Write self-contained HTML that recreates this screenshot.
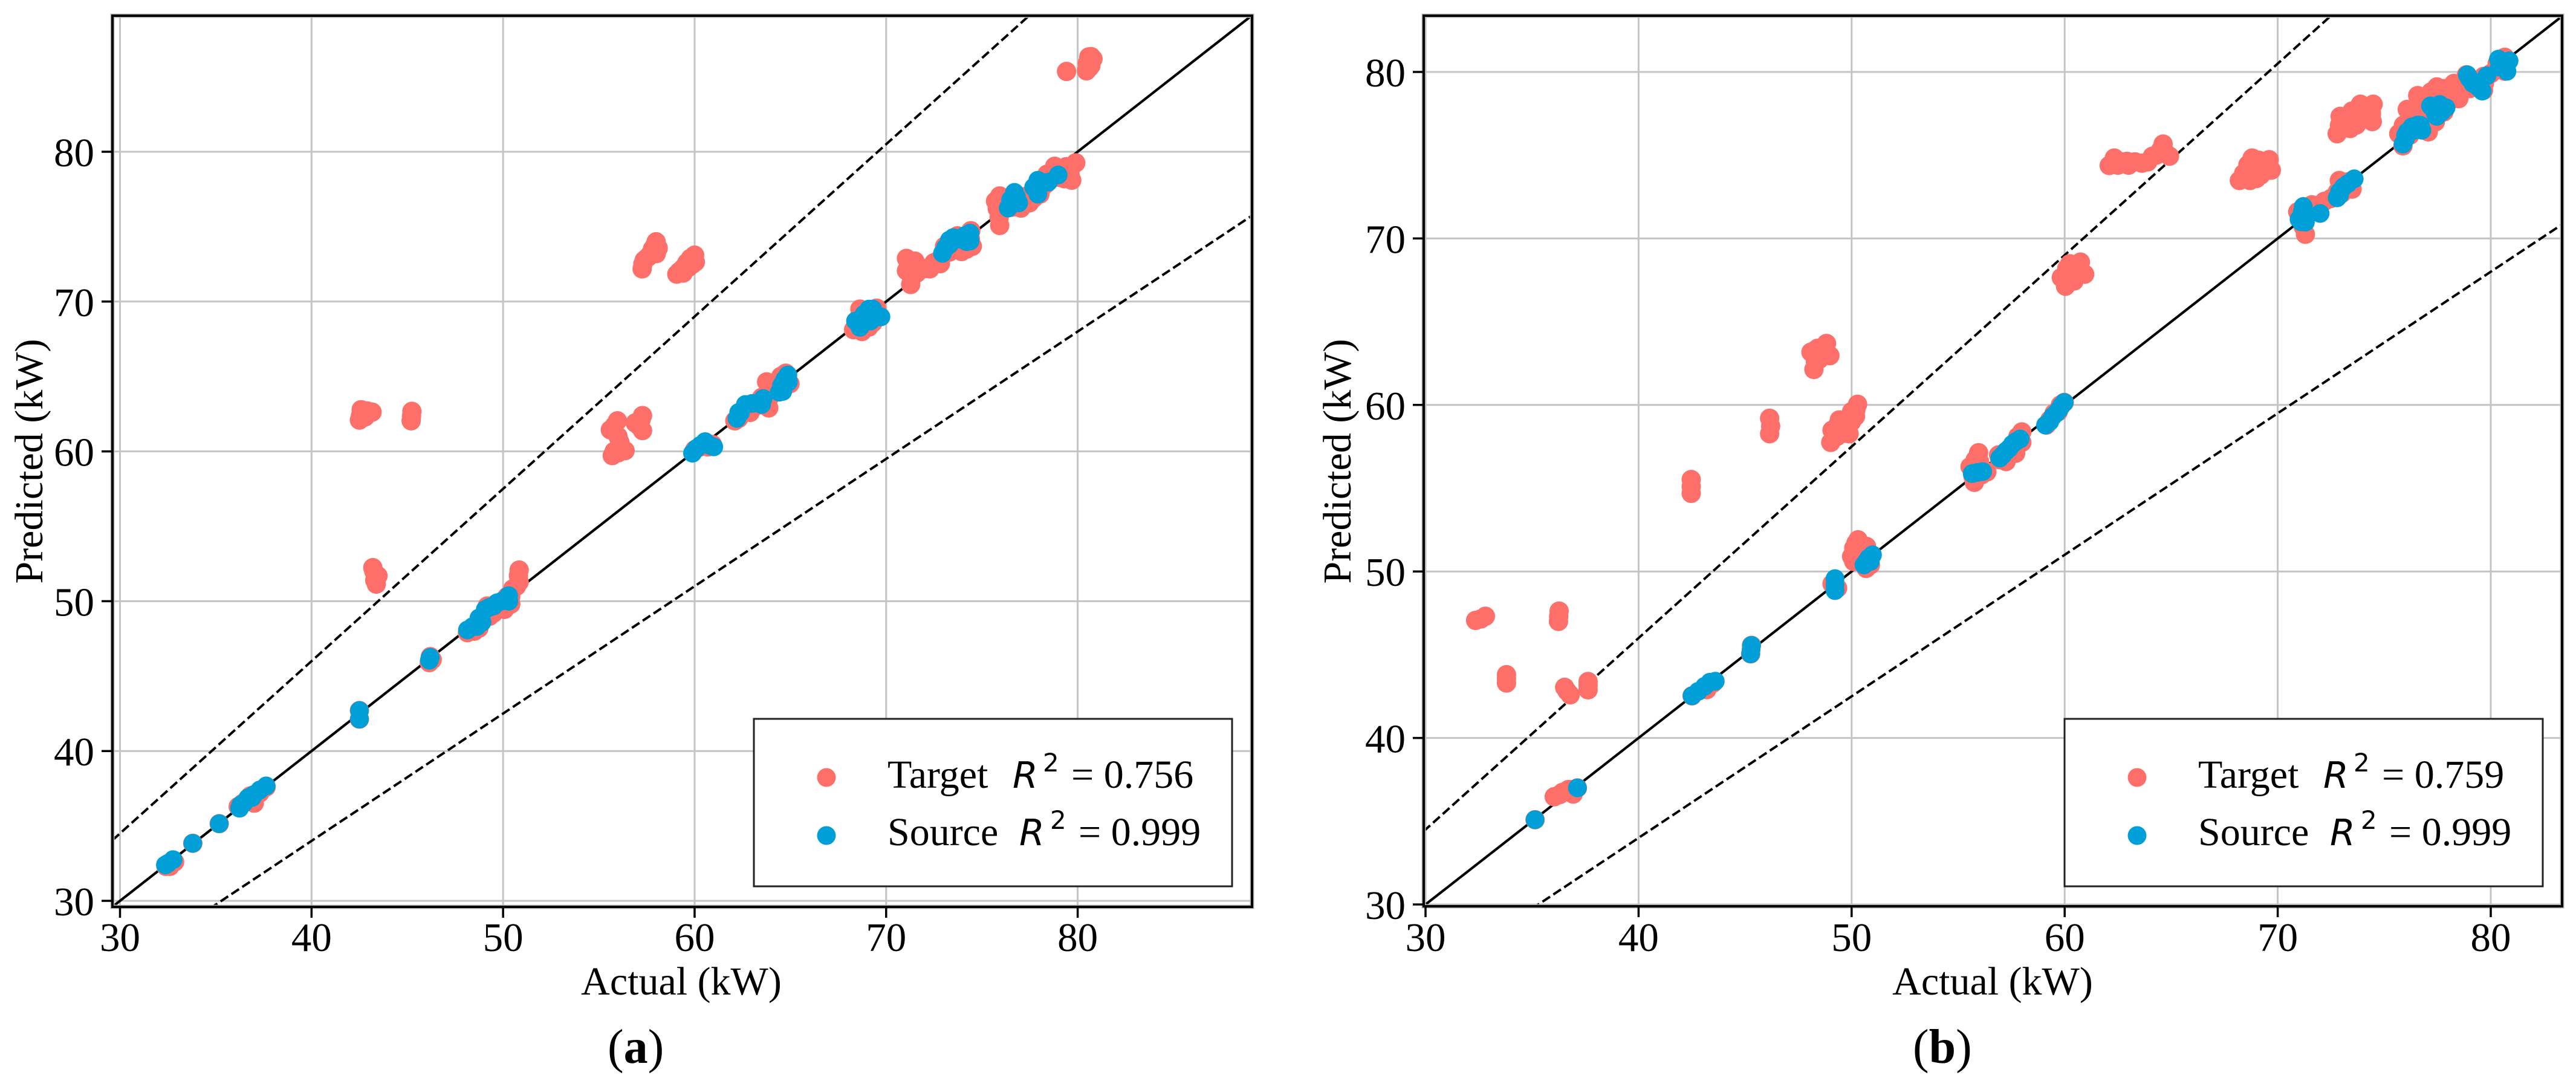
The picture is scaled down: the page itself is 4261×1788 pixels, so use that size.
<!DOCTYPE html>
<html lang="en">
<head>
<meta charset="utf-8">
<title>Actual vs predicted power scatter charts</title>
<style>
html,body{margin:0;padding:0;background:#fff;width:4261px;height:1788px;overflow:hidden}
svg{display:block}
text{font-family:"Liberation Serif",serif;fill:#000}
.tick{font-size:67px}
.axis{font-size:66px}
.leg{font-size:66px}
.r{font-family:"DejaVu Sans",sans-serif;font-style:oblique;font-size:60px}
.sup{font-family:"DejaVu Sans",sans-serif;font-size:42px}
.cap{font-size:80px}
</style>
</head>
<body>
<svg id="figure" xmlns="http://www.w3.org/2000/svg" width="4261" height="1788" viewBox="0 0 4261 1788">
<rect width="4261" height="1788" fill="#fff"/>
<g id="panel-a"></g>
<g id="panel-b"></g>

<g>
<rect x="1247" y="1189" width="791" height="277" fill="#fff" stroke="#222" stroke-width="3"/>
<circle cx="1367" cy="1286" r="15.5" fill="#ff6f69"/>
<text class="leg" x="1468" y="1303">Target</text>
<text class="r" x="1675" y="1303">R</text>
<text class="sup" x="1725" y="1276">2</text>
<text class="leg" x="1772" y="1303">= 0.756</text>
<circle cx="1367" cy="1382" r="15.5" fill="#019fd8"/>
<text class="leg" x="1468" y="1398">Source</text>
<text class="r" x="1686" y="1398">R</text>
<text class="sup" x="1737" y="1371">2</text>
<text class="leg" x="1784" y="1398">= 0.999</text>
</g>

<g>
<rect x="3415" y="1189" width="791" height="277" fill="#fff" stroke="#222" stroke-width="3"/>
<circle cx="3535" cy="1286" r="15.5" fill="#ff6f69"/>
<text class="leg" x="3636" y="1303">Target</text>
<text class="r" x="3843" y="1303">R</text>
<text class="sup" x="3893" y="1276">2</text>
<text class="leg" x="3940" y="1303">= 0.759</text>
<circle cx="3535" cy="1382" r="15.5" fill="#019fd8"/>
<text class="leg" x="3636" y="1398">Source</text>
<text class="r" x="3854" y="1398">R</text>
<text class="sup" x="3905" y="1371">2</text>
<text class="leg" x="3952" y="1398">= 0.999</text>
</g>

<text class="cap" x="1005" y="1758">(<tspan font-weight="bold">a</tspan>)</text>
<text class="cap" x="3164" y="1758">(<tspan font-weight="bold">b</tspan>)</text>
</svg>

<script>
const xTicksA = [30, 40, 50, 60, 70, 80];
const yTicksA = [30, 40, 50, 60, 70, 80];
const xTicksB = [30, 40, 50, 60, 70, 80];
const yTicksB = [30, 40, 50, 60, 70, 80];
const upperBandSlope = 1.15;
const lowerBandSlope = 0.85;

const targetActualA = [
42.5,42.59,43.16,42.65,45.24,45.2,
55.97,55.6,55.7,56.37,57.28,57.15,57.28,56.9,
57.26,57.37,57.7,57.99,57.92,58.1,
59.07,59.45,59.78,60,60.04,
43.2,43.38,43.47,
79.42,80.58,80.8,80.46,80.69,
60,60.55,60.93,
62.1,62.6,63.1,63.87,63.76,64.76,64.98,64.2,63.5,
68.3,68.74,69.3,68.63,69.5,69,
71.06,71.06,71.28,71.73,72.28,72.83,73.05,73.94,74.5,74.42,73.72,71.4,
75.93,75.71,75.93,76.15,77.04,77.48,78.03,78.8,79.69,79.69,79.36,78.36,79.9,76.5,77.2,78.4,79.2,76,
50.84,50.84,50.5,50.18,
48.14,48.74,49.18,49.5,50.07,
46.15,46.2,
42.5,42.5,
36.17,37.01,37.63,36.8,
35.18,33.8,32.4,32.85,
42.8,42.9,42.55,45.22,
55.8,55.8,56,56.1,56,56.1,57.1,57.2,
57.3,57.5,57.6,57.8,57.9,58,
59.2,59.3,59.6,59.9,59.4,59.7,59.9,
43.3,43.3,43.25,
80.7,80.6,80.5,80.7,
60.3,60.7,
62.3,62.9,63.4,63.7,63.9,64.2,64.5,64.6,63.9,
68.5,68.9,69.1,68.9,69.2,69.4,68.6,
71.2,71.5,71.6,71.3,72,72.5,72.9,73.3,73.6,73.3,74,74.4,74.2,
75.8,75.9,76.2,76.6,77.3,77.7,78.2,78.6,78.8,79,79.4,79.6,79.3,
50.8,50.7,50.4,
48.5,49,49.3,49.8,48.8,49.6,50.2,50.4,
46.3,36.4,36.6,37.3,32.6
];
const targetPredictedA = [
62.09,62.78,62.62,62.44,62.67,62.04,
62.04,61.44,59.72,60.05,62.39,62,61.39,61.9,
72.18,72.76,73.2,73.99,73.34,73.57,
71.83,72.3,72.88,73.1,72.64,
52.24,51.14,51.69,
85.36,86.33,86.2,85.4,85.75,
60.1,60.58,60.46,
62.04,62.6,63,62.9,64.64,65.22,64.52,64.17,63.6,
68.12,68,68.58,69.5,69.56,69,
72.88,72.06,71.14,72.3,72.18,72.53,73.69,73.34,73.69,74.73,74.39,72.6,
75.08,76.7,77.05,76.24,76.24,76.59,77.17,79.03,79.03,78.1,78.56,77.87,79.26,77,77,78.5,78.9,76,
52.08,51.28,50.82,50.14,
47.9,48.2,49.68,49.2,49.45,
45.9,46.3,
42.7,42.13,
36.29,36.52,37.6,37,
35.15,33.84,32.3,32.6,
62.3,62.7,62.35,62.35,
61.7,60,59.9,60.4,61,60.6,61.7,62.1,
72.5,72.9,73,73.5,73.7,73.2,
72,72.1,72.6,72.5,71.9,72.3,72.9,
51.9,51.4,52,
86,85.6,85.9,86.35,
60.3,60.3,
62.2,62.6,63.1,63.2,63.6,64.6,65,64.3,64.2,
68.6,68.5,68.3,69.3,69.3,69,69,
72.4,72.7,71.9,71.7,72.2,72.6,73,73.3,73.6,73.8,74,74.2,73.5,
76.2,75.6,76.8,76.3,76.6,76.9,77.7,78.4,78.3,78.3,79,78.5,78.2,
51.7,51,50.3,
48,48.9,49,49.7,48.6,49.8,50.3,49.8,
46.1,36.5,36.7,37.2,32.3
];
const sourceActualA = [
59.89,60.1,60.55,61,
62.21,62.65,62.4,63.58,63.5,64.42,64.54,64.87,64.9,
68.4,68.63,69.3,69.18,69.73,68.85,
72.94,73.5,73.94,74.38,74.38,73.3,
76.37,76.7,76.92,77.92,77.92,77.7,78.47,78.98,
48.14,48.63,48.74,49.07,49.51,49.96,50.29,
46.15,46.2,
42.5,42.5,
37.63,37,36.68,36.24,36.46,
35.18,33.8,32.37,32.77,
60.3,60.8,62.3,63,64.6,64.7,68.6,69,69.4,69.1,
73.1,73.7,74.1,74.2,73.3,76.5,76.8,77.8,78.2,
48.4,48.9,49.3,49.7,50.1,50.3,36.9,36.3,37.3,32.5
];
const sourcePredictedA = [
59.88,60.2,60.65,60.3,
62.2,63.13,62.6,63.53,63.13,63.95,64.41,65.1,64.64,
68.7,68.28,69.5,68.7,68.98,69.16,
73.22,74.27,74.15,74.57,74.04,73.8,
76.24,77.29,76.59,78.1,77.17,77.63,77.98,78.45,
48.08,48.31,48.88,49.45,49.68,50.02,50.37,
46.06,46.25,
42.7,42.13,
37.67,37.1,36.87,36.18,36.52,
35.15,33.84,32.4,32.75,
60.4,60.4,62.6,63.2,64,64.8,68.6,69,69.2,69.5,
73.6,74.2,74.4,74,74.1,76.8,77,77.5,77.9,
48.3,48.6,49.6,49.9,50.1,50,36.9,36.4,37.4,32.5
];

const targetActualB = [
48.23,48.09,48.82,48.98,48.49,48.4,
46.15,46.15,46.2,
49.02,49.08,49.42,49.88,50.28,50.18,49.78,49.3,
42.47,42.47,
50,50.1,50.3,50.4,50.7,50.88,50.68,
49.08,49.34,
45.3,45.26,
42.51,43.2,43.5,
37.13,36.93,36.43,36.04,36.7,
35.14,
32.35,32.81,36.27,36.24,
33.8,33.8,
36.53,36.79,37.63,37.63,
62.09,62.33,62.93,63.63,64.12,64.62,64.92,64.5,
68.2,68.6,68.8,69.6,69.7,68.7,69.2,
72.79,72.93,73.49,73.88,74.48,74.44,73.69,74,
71.3,70.94,71.6,72.19,72.89,73.49,73.3,
75.88,75.68,77.07,76.08,76.57,77.47,77.47,78.27,78.07,78.86,79.66,79.66,80.66,80.66,76.8,78.6,76.1,
60.04,59.84,60.24,60.74,60.94,60.44,
59.14,59.98,59.5,
57.99,57.99,56.95,57.25,57.7,
55.96,55.76,55.56,56.35,
48.3,48.5,48.7,48.3,48.6,48.8,
49.2,49.4,49.6,49.7,50,50,50.2,49.3,
42.47,
50.2,50.5,50.1,50.2,
36.25,32.6,33.8,36.65,37.63,
36.3,36.6,36.8,
62.5,62.7,63,63.3,63.9,64.3,64.5,64.7,
68.4,68.5,68.9,69.3,69.4,69.1,69,
72.9,73.2,73.3,73.6,73.9,74.2,74.4,73.4,
71.2,71.3,72,72.5,72.8,73.2,73,71.2,
75.9,75.9,76.3,76.5,76.2,76.8,76.9,77.2,77,77.8,77.7,78.2,78.6,78.5,79,79.3,79.7,80,80.3,80.8,80.2,76.6,77.4,77.8,
60.1,60.4,60.6,60.1,60.7,60.3,
59.3,59.7,59.8,
56.9,57.4,57.7,57.8,57.2,
55.8,55.9,56,55.7,56.1
];
const targetPredictedB = [
62.13,63.17,63.69,62.96,62.75,63.4,
59.2,58.27,58.73,
57.75,58.48,59.1,58.27,60.04,59.31,58.8,58.1,
55.52,54.69,
50.9,51.4,51.9,51.2,51.5,50.39,50.18,
49.26,49,
45.56,45.05,
42.53,42.9,43.3,
37,36.63,36.73,36.47,36.9,
35.09,
47.06,47.31,47.62,47,
43.8,43.3,
43.04,42.59,43.39,42.89,
74.38,74.83,74.63,74.52,74.94,75.67,74.94,75.2,
73.48,74.42,74.83,74.73,74.1,73.48,73.8,
76.29,77.33,77.65,78.06,78.06,77.02,76.81,77.5,
70.25,71.6,72.02,72.23,73.48,72.96,73.4,
75.56,76.29,76.4,77.75,78.58,77.44,79.1,79.31,78.27,79.83,78.9,79.73,80.88,80.04,77.3,78.8,77,
67.13,67.65,68.48,68.58,67.85,67.44,
58.79,60.15,59.5,
58.38,57.75,56.71,56.6,57.1,
57.13,55.35,56.29,55.98,
62.6,63.1,63.4,63.3,62.9,63,
58.2,58.5,59,58.3,59,59.6,59.7,58.7,
55.1,
51.1,50.7,50.6,51.7,
47.3,47.15,43.55,42.8,43.15,
36.6,36.8,36.9,
74.4,74.6,74.4,74.6,74.6,75,75.3,75.2,
73.9,73.6,74.2,74.3,74.6,74.7,73.6,
76.8,77.2,76.9,77.3,77.5,77.7,77.5,76.6,
71.2,71.6,72,72.4,72.8,73.1,72.7,70.7,
76,76.8,77.3,77.8,76.2,77.6,78.4,78.8,77,79,78.2,78.7,79.2,78.4,79,79.4,79.3,79.9,80.5,80.6,80.1,76.7,77,77.6,
67.5,68,67.9,68.2,68.1,67.7,
59.1,59.6,60,
57,57.1,57.6,58.1,56.9,
56.7,56,56.6,55.7,55.8
];
const sourceActualB = [
50.98,50.58,50.88,
49.22,49.22,
45.3,45.26,
42.51,43.35,43.6,43.1,
37.13,35.14,
71.2,71,71.3,71.99,72.79,73.09,73.59,
75.88,76.08,76.57,76.77,77.17,77.47,77.9,77.5,
78.9,79.16,79.6,79.82,80.36,80.86,80.76,80.5,
59.1,59.44,59.74,59.98,
56.95,57.25,57.55,57.91,
55.66,56.15,
50.8,50.7,49.22,45.28,42.8,
71.2,71.15,71.1,72.9,72.9,73.3,
76,76,76.3,76.7,76.4,77.3,77.4,77.7,77.6,
79,79.4,80.5,80.7,80.4,
59.3,59.6,59.85,
57.1,57.4,57.7,
55.9
];
const sourcePredictedB = [
51,50.39,50.6,
49.57,48.85,
45.56,45.05,
42.53,43.35,43.41,43.1,
37,35.09,
71.92,71.15,70.98,71.5,72.44,73.1,73.58,
75.67,76.4,76.81,76.5,77.96,77.33,77.85,77.8,
79.83,79.31,78.85,79.77,80.77,80.67,80.04,80.4,
58.79,59.31,59.73,60.15,
56.81,57.23,57.65,57.96,
55.88,56,
50.8,50.6,49.2,45.3,42.8,
71.4,71.6,71,72.8,72.6,73.3,
76,76.2,76.7,76.8,76.5,77.8,77.5,77.6,78.05,
79.6,79.1,80.3,80.4,80.3,
59,59.5,59.95,
57,57.4,57.8,
55.95
];

const svgNS = 'http://www.w3.org/2000/svg';
function mk(tag, attrs, parent) {
  const el = document.createElementNS(svgNS, tag);
  for (const k in attrs) el.setAttribute(k, attrs[k]);
  parent.appendChild(el);
  return el;
}

function scale(v0, p0, v1, p1) {
  return function (v) { return p0 + (v - v0) * (p1 - p0) / (v1 - v0); };
}

function drawPanel(root, box, xScale, yScale, limLow, limHigh, xTicks, yTicks, tActual, tPred, sActual, sPred, yLabelX, xLabelX, yTickEnd) {
  const grid = mk('g', {}, root);
  
  
  xTicks.forEach(function (t) {
    const el = mk('line', { x1: xScale(t), x2: xScale(t), y1: box.top, y2: box.bottom, stroke: '#c4c4c4', 'stroke-width': 3 }, grid);
    
    
  });
  yTicks.forEach(function (t) {
    const el = mk('line', { x1: box.left, x2: box.right, y1: yScale(t), y2: yScale(t), stroke: '#c4c4c4', 'stroke-width': 3 }, grid);
    
    
  });

  const clipId = root.id + '-clip';
  const clip = mk('clipPath', { id: clipId }, root);
  mk('rect', { x: box.left, y: box.top, width: box.right - box.left, height: box.bottom - box.top }, clip);

  const refs = mk('g', { 'clip-path': 'url(#' + clipId + ')' }, root);
  
  

  const identity = mk('line', { x1: xScale(limLow), y1: yScale(limLow), x2: xScale(limHigh), y2: yScale(limHigh), stroke: '#000', 'stroke-width': 4.2 }, refs);
  
  

  const upper = mk('line', { x1: xScale(limLow), y1: yScale(limLow * upperBandSlope), x2: xScale(limHigh), y2: yScale(limHigh * upperBandSlope), stroke: '#000', 'stroke-width': 4, 'stroke-dasharray': '15 6.5' }, refs);
  
  

  const lower = mk('line', { x1: xScale(limLow), y1: yScale(limLow * lowerBandSlope), x2: xScale(limHigh), y2: yScale(limHigh * lowerBandSlope), stroke: '#000', 'stroke-width': 4, 'stroke-dasharray': '15 6.5' }, refs);
  
  

  const targets = mk('g', { fill: '#ff6f69' }, root);
  
  
  tActual.forEach(function (a, i) {
    const pt = mk('circle', { cx: xScale(a), cy: yScale(tPred[i]), r: 16 }, targets);
    
    
  });

  const sources = mk('g', { fill: '#019fd8' }, root);
  
  
  sActual.forEach(function (a, i) {
    const pt = mk('circle', { cx: xScale(a), cy: yScale(sPred[i]), r: 15.5 }, sources);
    
    
  });

  const halo = mk('rect', { x: box.left, y: box.top, width: box.right - box.left, height: box.bottom - box.top, fill: 'none', stroke: '#b5b5b5', 'stroke-width': 7 }, root);
  
  
  const frame = mk('rect', { x: box.left, y: box.top, width: box.right - box.left, height: box.bottom - box.top, fill: 'none', stroke: '#000', 'stroke-width': 4 }, root);
  
  

  xTicks.forEach(function (t) {
    const mark = mk('line', { x1: xScale(t), x2: xScale(t), y1: box.bottom, y2: box.bottom + 18, stroke: '#000', 'stroke-width': 3.5 }, root);
    
    
    const lab = mk('text', { class: 'tick', x: xScale(t), y: 1573, 'text-anchor': 'middle' }, root);
    lab.textContent = String(t);
    
    
  });
  yTicks.forEach(function (t) {
    const mark = mk('line', { x1: box.left - 18, x2: box.left, y1: yScale(t), y2: yScale(t), stroke: '#000', 'stroke-width': 3.5 }, root);
    
    
    const lab = mk('text', { class: 'tick', x: yTickEnd, y: yScale(t) + 24, 'text-anchor': 'end' }, root);
    lab.textContent = String(t);
    
    
  });

  const xTitle = mk('text', { class: 'axis', x: xLabelX, y: 1645, 'text-anchor': 'middle' }, root);
  xTitle.textContent = 'Actual (kW)';
  
  

  const yTitle = mk('text', { class: 'axis', x: 0, y: 0, 'text-anchor': 'middle', transform: 'translate(' + yLabelX + ',763) rotate(-90)' }, root);
  yTitle.textContent = 'Predicted (kW)';
  
  
}

const xScaleA = scale(30, 198.5, 80, 1782.6);
const yScaleA = scale(30, 1490, 80, 251);
const xScaleB = scale(30, 2358, 80, 4120);
const yScaleB = scale(30, 1496, 80, 119);

drawPanel(document.getElementById('panel-a'), { left: 186, right: 2071, top: 26, bottom: 1500 }, xScaleA, yScaleA, 29.6, 89.1, xTicksA, yTicksA, targetActualA, targetPredictedA, sourceActualA, sourcePredictedA, 70, 1127, 156);
drawPanel(document.getElementById('panel-b'), { left: 2355, right: 4238, top: 26, bottom: 1499 }, xScaleB, yScaleB, 29.9, 83.4, xTicksB, yTicksB, targetActualB, targetPredictedB, sourceActualB, sourcePredictedB, 2234, 3296, 2325);
</script>
</body>
</html>
